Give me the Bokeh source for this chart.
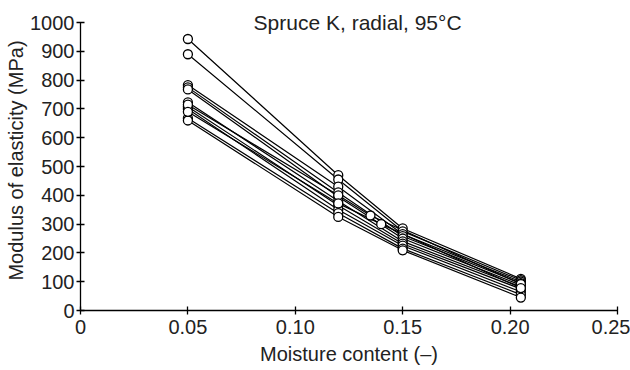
from bokeh.plotting import figure
from bokeh.models import Range1d, FixedTicker, Label
from bokeh.embed import file_html
from bokeh.resources import INLINE

# Moisture content (-) of each series, and modulus of elasticity (MPa)
moisture = [0.05, 0.12, 0.15, 0.205]
moisture_b = [0.05, 0.12, 0.135, 0.205]
moisture_c = [0.05, 0.12, 0.14, 0.205]

s1 = [943, 470, 285, 110]
s2 = [890, 455, 275, 105]
s3 = [783, 430, 265, 100]
s4 = [775, 410, 258, 95]
s5 = [768, 395, 250, 88]
s6 = [723, 380, 240, 82]
s7 = [708, 365, 232, 75]
s8 = [700, 350, 225, 65]
s9 = [668, 338, 215, 55]
s10 = [660, 325, 209, 45]
s11 = [715, 400, 330, 92]
s12 = [690, 372, 300, 78]

series = [(moisture, s) for s in [s1, s2, s3, s4, s5, s6, s7, s8, s9, s10]]
series += [(moisture_b, s11), (moisture_c, s12)]

x_ticks = [0, 0.05, 0.10, 0.15, 0.20, 0.25]
x_tick_labels = ["0", "0.05", "0.10", "0.15", "0.20", "0.25"]
y_ticks = [0, 100, 200, 300, 400, 500, 600, 700, 800, 900, 1000]

title_text = "Spruce K, radial, 95\u00b0C"
x_label = "Moisture content (\u2013)"
y_label = "Modulus of elasticity (MPa)"

FONT = "Liberation Sans"
FS = "20px"

p = figure(width=630, height=370, output_backend="svg", toolbar_location=None,
           x_range=Range1d(0, 0.25), y_range=Range1d(0, 1042),
           min_border_left=80, min_border_right=13, min_border_top=10,
           min_border_bottom=60)
p.outline_line_color = None
p.grid.visible = False
p.background_fill_color = "white"
p.border_fill_color = "white"

for xs, ys in series:
    p.line(xs, ys, line_color="black", line_width=1.2)
for xs, ys in series:
    p.scatter(xs, ys, marker="circle", size=9, fill_color="white",
              line_color="black", line_width=1.3)

for ax in (p.xaxis[0], p.yaxis[0]):
    ax.axis_line_color = "black"
    ax.axis_line_width = 1.3
    ax.major_tick_line_color = "black"
    ax.major_tick_line_width = 1.3
    ax.major_tick_in = 4
    ax.major_tick_out = 4
    ax.minor_tick_line_color = None
    ax.major_label_text_font = FONT
    ax.major_label_text_font_size = FS
    ax.major_label_text_color = "#222222"
    ax.axis_label_text_font = FONT
    ax.axis_label_text_font_size = FS
    ax.axis_label_text_font_style = "normal"
    ax.axis_label_text_color = "#222222"

p.xaxis.ticker = FixedTicker(ticks=x_ticks)
p.xaxis.major_label_overrides = {t: l for t, l in zip(x_ticks, x_tick_labels)}
p.xaxis.major_label_standoff = 5
p.xaxis.axis_label = x_label
p.xaxis.axis_label_standoff = 6

p.yaxis.ticker = FixedTicker(ticks=y_ticks)
p.yaxis.bounds = (0, 1000)
p.yaxis.major_label_standoff = 2
p.yaxis.axis_label = y_label
p.yaxis.axis_label_standoff = 0

title = Label(x=0.129, y=1000, text=title_text,
              text_font=FONT, text_font_size="21px", text_align="center",
              text_baseline="middle", text_color="#222222")
p.add_layout(title)

open("out.html", "w").write(file_html(p, INLINE))
